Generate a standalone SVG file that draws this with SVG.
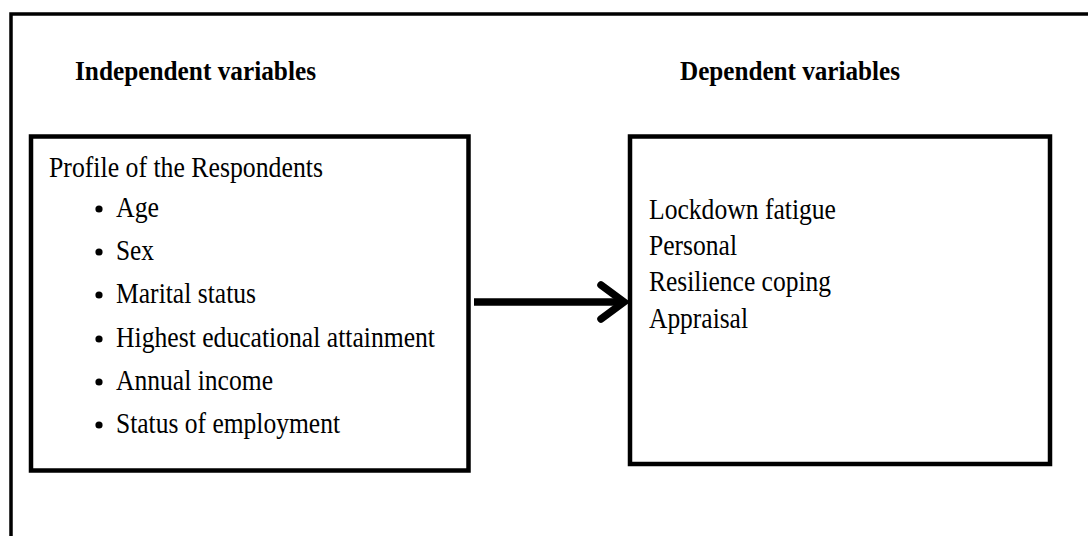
<svg xmlns="http://www.w3.org/2000/svg" width="1088" height="536" viewBox="0 0 1088 536">
<style>
.frame{fill:none;stroke:#000}
.box{fill:#fff;stroke:#000;stroke-width:4.5}
.hd{font-family:"Liberation Serif","Times New Roman",serif;font-weight:bold;font-size:26.5px;fill:#000}
.tx{font-family:"Liberation Serif","Times New Roman",serif;font-size:28.5px;fill:#000}
.conn{fill:none;stroke:#000;stroke-width:7.5}
</style>
<rect width="1088" height="536" fill="#fff"/>
<g id="frame">
<path class="frame" d="M1088,14 H11 V536" stroke-width="3.5"/>
</g>
<g id="headings">
<text class="hd" x="75" y="80" textLength="241" lengthAdjust="spacingAndGlyphs">Independent variables</text>
<text class="hd" x="680" y="80" textLength="220" lengthAdjust="spacingAndGlyphs">Dependent variables</text>
</g>
<g id="independent">
<rect class="box" x="31" y="136.5" width="437.5" height="334"/>
<text class="tx" x="49" y="177" textLength="274" lengthAdjust="spacingAndGlyphs">Profile of the Respondents</text>
<g fill="#000">
<circle cx="99" cy="209" r="3.6"/>
<circle cx="99" cy="252" r="3.6"/>
<circle cx="99" cy="295" r="3.6"/>
<circle cx="99" cy="339" r="3.6"/>
<circle cx="99" cy="382" r="3.6"/>
<circle cx="99" cy="425" r="3.6"/>
</g>
<text class="tx" x="116" y="217" textLength="43" lengthAdjust="spacingAndGlyphs">Age</text>
<text class="tx" x="116" y="260" textLength="38" lengthAdjust="spacingAndGlyphs">Sex</text>
<text class="tx" x="116" y="303" textLength="140" lengthAdjust="spacingAndGlyphs">Marital status</text>
<text class="tx" x="116" y="347" textLength="319" lengthAdjust="spacingAndGlyphs">Highest educational attainment</text>
<text class="tx" x="116" y="390" textLength="157" lengthAdjust="spacingAndGlyphs">Annual income</text>
<text class="tx" x="116" y="433" textLength="224" lengthAdjust="spacingAndGlyphs">Status of employment</text>
</g>
<g id="dependent">
<rect class="box" x="630" y="136.5" width="420" height="327.5"/>
<text class="tx" x="649" y="219" textLength="187" lengthAdjust="spacingAndGlyphs">Lockdown fatigue</text>
<text class="tx" x="649" y="255" textLength="88" lengthAdjust="spacingAndGlyphs">Personal</text>
<text class="tx" x="649" y="291" textLength="182" lengthAdjust="spacingAndGlyphs">Resilience coping</text>
<text class="tx" x="649" y="328" textLength="99" lengthAdjust="spacingAndGlyphs">Appraisal</text>
</g>
<g id="connectors">
<path class="conn" d="M474,302 H621"/>
<path class="conn" d="M601,285 L624,302 L601,319" stroke-linecap="round" stroke-linejoin="miter"/>
</g>
</svg>
